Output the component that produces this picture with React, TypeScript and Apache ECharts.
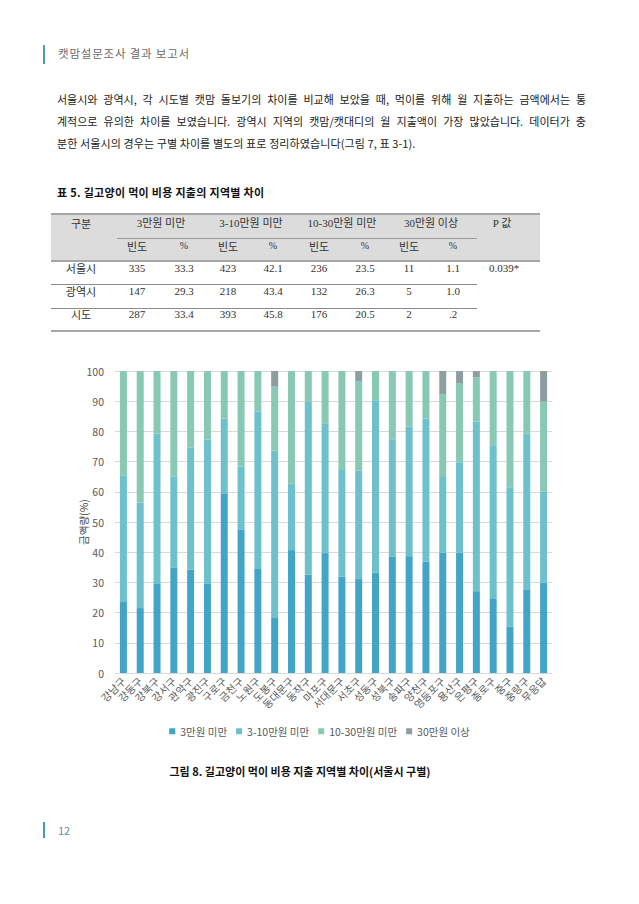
import React, { useEffect, useRef } from "react";
import * as echarts from "echarts";

// ---- Chart data (Seoul districts) ----
const districts = [
  "강남구", "강동구", "강북구", "강서구", "관악구", "광진구", "구로구", "금천구", "노원구",
  "도봉구", "동대문구", "동작구", "마포구", "서대문구", "서초구", "성동구", "성북구", "송파구",
  "양천구", "영등포구", "용산구", "은평구", "종로구", "중구", "중랑구", "무응답",
];
const under3 = [23.5, 21.5, 29.5, 34.8, 34.2, 29.5, 59.5, 47.4, 34.4, 18.2, 40.7, 32.6, 39.7, 31.9, 31.1, 33.2, 38.5, 38.7, 36.8, 39.8, 39.8, 27.1, 24.5, 15.3, 27.5, 29.9];
const from3to10 = [41.8, 35.0, 49.8, 30.3, 40.5, 47.8, 24.8, 21.0, 52.1, 55.4, 22.0, 57.3, 43.0, 35.6, 35.9, 57.1, 38.9, 42.9, 47.5, 25.1, 30.0, 56.2, 50.9, 46.2, 51.8, 30.1];
const from10to30 = [34.7, 43.5, 20.7, 34.9, 25.3, 22.7, 15.7, 31.6, 13.5, 21.2, 37.3, 10.1, 17.3, 32.5, 29.7, 9.7, 22.6, 18.4, 15.7, 27.5, 26.2, 14.6, 24.6, 38.5, 20.7, 29.9];
const over30 = [0, 0, 0, 0, 0, 0, 0, 0, 0, 5.2, 0, 0, 0, 0, 3.3, 0, 0, 0, 0, 7.6, 4.0, 2.1, 0, 0, 0, 10.1];
const seriesNames = ["3만원 미만", "3-10만원 미만", "10-30만원 미만", "30만원 이상"];
const yTicks = [0, 10, 20, 30, 40, 50, 60, 70, 80, 90, 100];

// ---- Table data ----
const tableGroups = ["3만원 미만", "3-10만원 미만", "10-30만원 미만", "30만원 이상"];
const tableRegions = ["서울시", "광역시", "시도"];
const tableFreq = [
  ["335", "423", "236", "11"],
  ["147", "218", "132", "5"],
  ["287", "393", "176", "2"],
];
const tablePct = [
  ["33.3", "42.1", "23.5", "1.1"],
  ["29.3", "43.4", "26.3", "1.0"],
  ["33.4", "45.8", "20.5", ".2"],
];
const pValue = "0.039*";

// ---- Text ----
const headerText = "캣맘설문조사 결과 보고서";
const paraLines = [
  "서울시와 광역시, 각 시도별 캣맘 돌보기의 차이를 비교해 보았을 때, 먹이를 위해 월 지출하는 금액에서는 통",
  "계적으로 유의한 차이를 보였습니다. 광역시 지역의 캣맘/캣대디의 월 지출액이 가장 많았습니다. 데이터가 충",
  "분한 서울시의 경우는 구별 차이를 별도의 표로 정리하였습니다(그림 7, 표 3-1).",
];
const tableTitle = "표 5. 길고양이 먹이 비용 지출의 지역별 차이";
const figCaption = "그림 8. 길고양이 먹이 비용 지출 지역별 차이(서울시 구별)";
const pageNumber = "12";

const KFONT = "'Noto Sans CJK KR', 'Noto Sans', sans-serif";
const TFONT = "'Liberation Serif', 'Noto Sans CJK KR', serif";
const COLORS = ["#42A4C7", "#6CC1CC", "#88C8B5", "#8E9EA0"];

function Txt(props: { x: number; y: number; children: any; size?: number; color?: string; font?: string; bold?: boolean; align?: string; ls?: number }) {
  const { x, y, children, size = 11, color = "#333", font = TFONT, bold = false, align = "center", ls = 0 } = props;
  const tx = align === "center" ? "-50%" : align === "right" ? "-100%" : "0";
  return (
    <div
      style={{
        position: "absolute",
        left: x,
        top: y,
        transform: `translate(${tx}, -50%)`,
        fontSize: size,
        color,
        fontFamily: font,
        fontWeight: bold ? 700 : 400,
        whiteSpace: "nowrap",
        lineHeight: 1,
        letterSpacing: ls,
      }}
    >
      {children}
    </div>
  );
}

function HLine(props: { x1: number; x2: number; y: number; w?: number; color?: string }) {
  const { x1, x2, y, w = 1, color = "#8c8c8c" } = props;
  return <div style={{ position: "absolute", left: x1, top: y - w / 2, width: x2 - x1, height: w, background: color }} />;
}

function Chart() {
  const ref = useRef<HTMLDivElement>(null);
  useEffect(() => {
    if (!ref.current) return;
    const chart = echarts.init(ref.current, null, { renderer: "svg" });
    const data = [under3, from3to10, from10to30, over30];
    chart.setOption({
      animation: false,
      textStyle: { fontFamily: KFONT },
      grid: { left: 115, right: 87, top: 21, height: 302 },
      legend: {
        data: seriesNames,
        top: 371,
        left: "center",
        icon: "rect",
        itemWidth: 6,
        itemHeight: 6,
        itemGap: 9,
        textStyle: { fontSize: 10.5, color: "#595959", fontFamily: KFONT },
      },
      xAxis: {
        type: "category",
        data: districts,
        axisTick: { show: false },
        axisLine: { lineStyle: { color: "#d9d9d9" } },
        axisLabel: { rotate: 45, interval: 0, fontSize: 10.5, color: "#595959", margin: 6 },
      },
      yAxis: {
        type: "value",
        min: yTicks[0],
        max: yTicks[yTicks.length - 1],
        interval: 10,
        name: "금액량(%)",
        nameLocation: "middle",
        nameGap: 26,
        nameMoveOverlap: false,
        nameRotate: 90,
        nameTextStyle: { fontSize: 10.5, color: "#4a4a4a" },
        axisLine: { show: false },
        axisTick: { show: false },
        axisLabel: { fontSize: 10.5, color: "#595959", margin: 11 },
        splitLine: { lineStyle: { color: "#d9d9d9" } },
      },
      series: seriesNames.map((n, i) => ({
        name: n,
        type: "bar",
        stack: "total",
        barWidth: 7,
        itemStyle: { color: COLORS[i] },
        data: data[i],
      })),
    });
    return () => chart.dispose();
  }, []);
  return <div ref={ref} style={{ position: "absolute", left: 0, top: 350, width: 639, height: 400 }} />;
}

export default function App() {
  const freqX = [137, 228, 319, 409];
  const pctX = [184, 273, 365, 453];
  const groupX = [161, 251, 342, 431];
  const rowY = [268, 291, 314];
  return (
    <div style={{ position: "absolute", left: 0, top: 0, width: 639, height: 904, background: "#fff", overflow: "hidden" }}>
      {/* header */}
      <div style={{ position: "absolute", left: 43, top: 45, width: 2, height: 19, background: "#4f98ad" }} />
      <Txt x={58} y={54} size={11.5} color="#6b6b6b" font={KFONT} align="left" ls={0.8}>{headerText}</Txt>

      {/* paragraph */}
      {paraLines.map((l, i) => (
        <div
          key={i}
          style={{
            position: "absolute",
            left: 57,
            top: 92 + i * 22,
            width: i < 2 ? 529 : 600,
            fontSize: 11,
            lineHeight: "14px",
            color: "#222",
            fontFamily: KFONT,
            textAlign: i < 2 ? "justify" : "left",
            textAlignLast: i < 2 ? "justify" : "left",
            letterSpacing: i < 2 ? 0 : 0.1,
            whiteSpace: "nowrap",
          } as any}
        >
          {l}
        </div>
      ))}

      {/* table title */}
      <Txt x={57} y={192} size={11} color="#111" font={KFONT} bold align="left" ls={0.3}>{tableTitle}</Txt>

      {/* table */}
      <div style={{ position: "absolute", left: 51, top: 214, width: 489, height: 47, background: "#dcdcdc" }} />
      <HLine x1={51} x2={540} y={214} w={2} color="#a6a6a6" />
      <HLine x1={117} x2={477} y={238} w={1} color="#9a9a9a" />
      <HLine x1={51} x2={540} y={261} w={1.5} color="#a6a6a6" />
      <HLine x1={51} x2={477} y={284} w={1} color="#8c8c8c" />
      <HLine x1={51} x2={477} y={308} w={1} color="#8c8c8c" />
      <HLine x1={51} x2={540} y={331} w={2} color="#a6a6a6" />

      <Txt x={81} y={223} size={11} color="#333" font={KFONT}>구분</Txt>
      {tableGroups.map((g, i) => (
        <Txt key={g} x={groupX[i]} y={223} size={11}>{g}</Txt>
      ))}
      <Txt x={502} y={223} size={11}>P 값</Txt>
      {tableGroups.map((g, i) => (
        <React.Fragment key={"s" + g}>
          <Txt x={freqX[i]} y={246} size={11} font={KFONT}>빈도</Txt>
          <Txt x={pctX[i]} y={246} size={10}>%</Txt>
        </React.Fragment>
      ))}
      {tableRegions.map((r, ri) => (
        <React.Fragment key={r}>
          <Txt x={81} y={rowY[ri]} size={11} font={KFONT}>{r}</Txt>
          {tableFreq[ri].map((v, ci) => (
            <Txt key={"f" + ci} x={freqX[ci]} y={rowY[ri]} size={11}>{v}</Txt>
          ))}
          {tablePct[ri].map((v, ci) => (
            <Txt key={"p" + ci} x={pctX[ci]} y={rowY[ri]} size={11}>{v}</Txt>
          ))}
        </React.Fragment>
      ))}
      <Txt x={504} y={268} size={11}>{pValue}</Txt>

      {/* chart */}
      <Chart />

      {/* caption */}
      <Txt x={300} y={771} size={11} color="#111" font={KFONT} bold>{figCaption}</Txt>

      {/* footer */}
      <div style={{ position: "absolute", left: 43, top: 822, width: 2, height: 16, background: "#4f98ad" }} />
      <Txt x={58} y={830} size={11} color="#5b8fa8" font={KFONT} align="left">{pageNumber}</Txt>
    </div>
  );
}
